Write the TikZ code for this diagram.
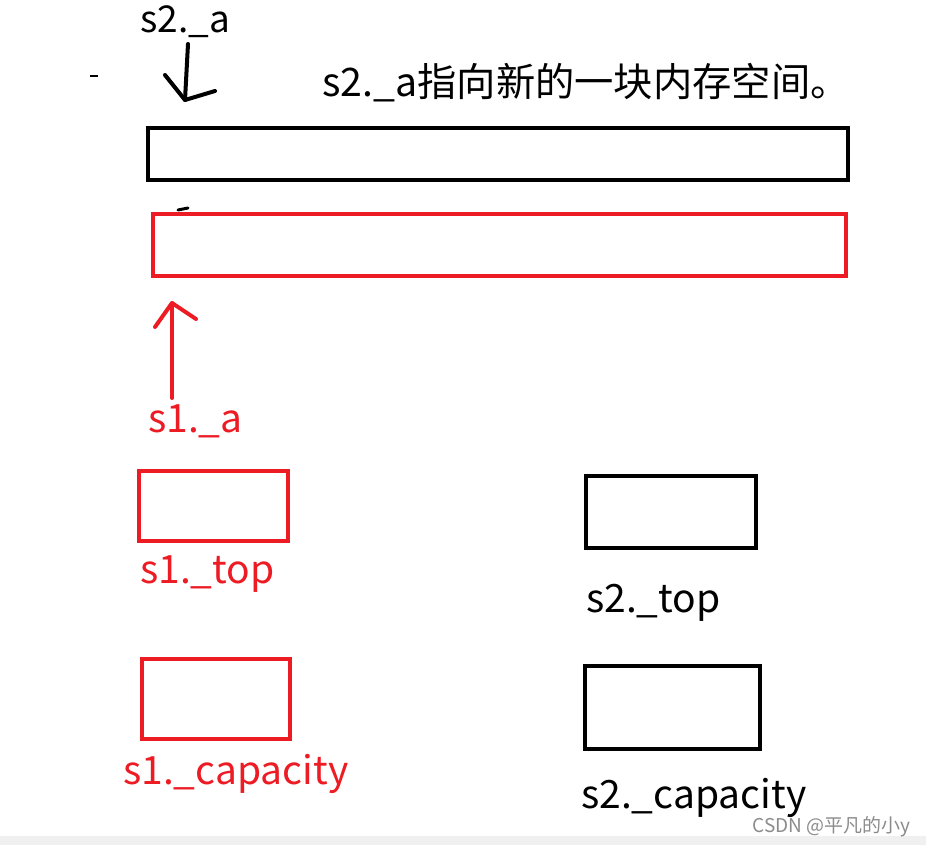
\documentclass[tikz,border=0pt]{standalone}
\usepackage{fontspec}
\setmainfont{Noto Sans CJK SC}
\definecolor{pred}{HTML}{ED1C24}
\definecolor{band}{HTML}{F0F0F0}
\tikzset{
  box/.style={draw, line width=4pt},
  rbox/.style={box, draw=pred},
  lbl/.style={inner sep=0pt, anchor=base west, font=\fontsize{39}{39}\selectfont},
  rlbl/.style={lbl, text=pred},
  pen/.style={line width=4pt, line cap=round, line join=round},
}
\begin{document}
\begin{tikzpicture}[x=1pt,y=-1pt]
\useasboundingbox (0,0) rectangle (926,845);
\fill[white] (0,0) rectangle (926,845);
\fill[band] (0,836) rectangle (926,845);
% big boxes
\node[box, minimum width=700pt, minimum height=52pt, anchor=north west, inner sep=0pt] (b2) at (146,126) {};
\node[rbox, minimum width=693pt, minimum height=62pt, anchor=north west, inner sep=0pt] (b1) at (151,212) {};
% small boxes
\node[rbox, minimum width=149pt, minimum height=70pt, anchor=north west, inner sep=0pt] (t1) at (137,469) {};
\node[rbox, minimum width=148pt, minimum height=80pt, anchor=north west, inner sep=0pt] (c1) at (140,657) {};
\node[box, minimum width=170pt, minimum height=72pt, anchor=north west, inner sep=0pt] (t2) at (584,474) {};
\node[box, minimum width=175pt, minimum height=83pt, anchor=north west, inner sep=0pt] (c2) at (583,664) {};
% labels
\node[lbl, font=\fontsize{37}{37}\selectfont] (s2a) at (140,33) {s2.\_a};
\node[lbl, font=\fontsize{39.3}{39.3}\selectfont] (cap) at (322,97) {s2.\_a指向新的一块内存空间。};
\node[rlbl] (s1a) at (148,432) {s1.\_a};
\node[rlbl] (s1t) at (140,583) {s1.\_top};
\node[rlbl] (s1c) at (123,784) {s1.\_capacity};
\node[lbl] (s2t) at (586,612) {s2.\_top};
\node[lbl] (s2c) at (581,808) {s2.\_capacity};
\node[inner sep=0pt, anchor=base east, text=black!45, font=\fontsize{19}{19}\selectfont] (wm) at (911,832) {CSDN @平凡的小y};
% black hand-drawn arrow from s2._a down to the black box
\coordinate (a2s) at (188,44);
\coordinate (a2e) at (185,100);
\draw[pen] (a2s) -- (a2e);
\draw[pen] (165,75) -- (a2e) -- (215,91);
% red arrow from s1._a up to the red box
\coordinate (a1s) at (172,398);
\coordinate (a1e) at (172,303);
\draw[pen, pred] (a1s) -- (a1e);
\draw[pen, pred] (155,327) -- (a1e) -- (196,319);
% stray marks
\draw[line width=2pt] (90,76) -- (98,76);
\draw[line width=3pt, line cap=round] (178,210) -- (188,208);
\end{tikzpicture}
\end{document}
